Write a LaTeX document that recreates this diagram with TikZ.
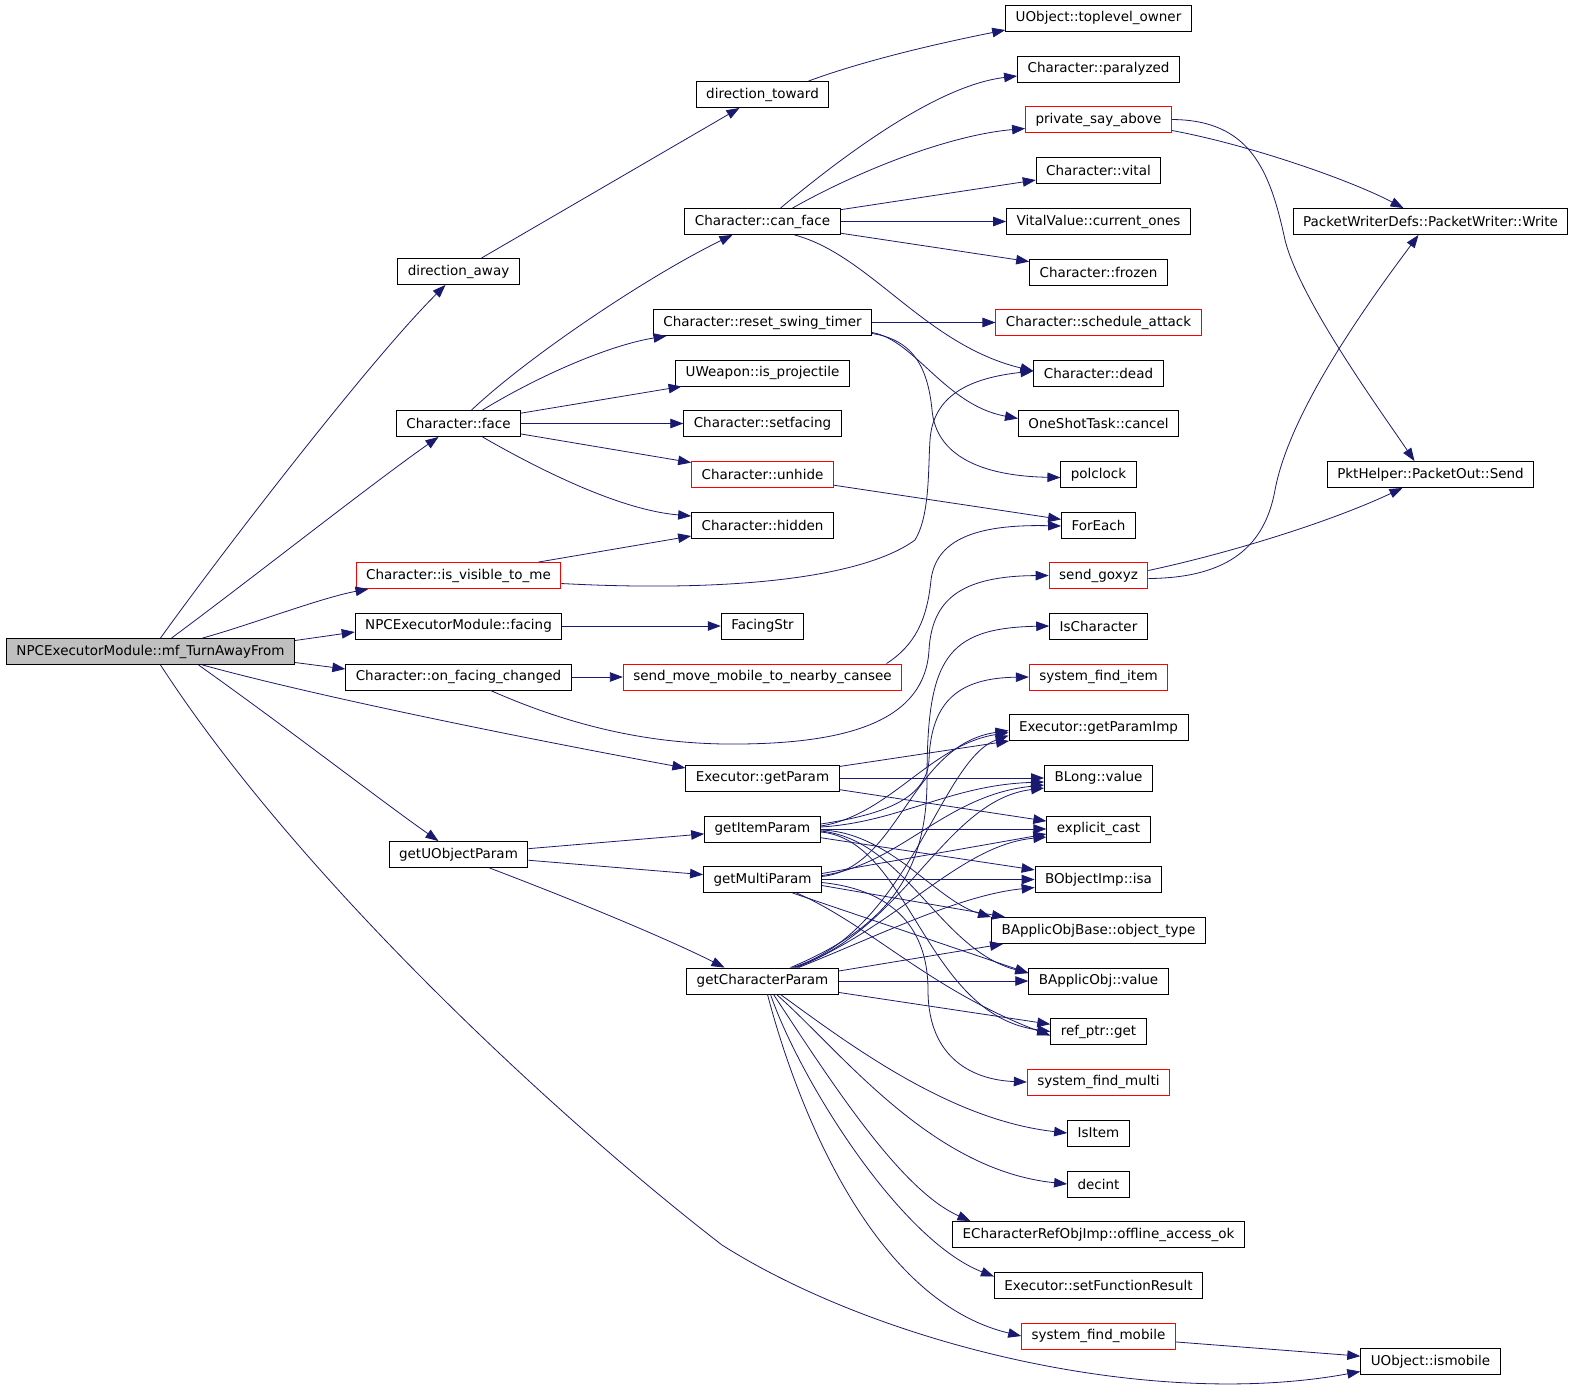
\documentclass[tikz,border=0pt]{standalone}
\usepackage{fontspec}
\setmainfont{DejaVu Sans}
\usetikzlibrary{arrows.meta}
\definecolor{callblue}{HTML}{191970}
\definecolor{rootgray}{HTML}{BFBFBF}
\tikzset{fn/.style = {draw, line width = 0.9pt, minimum height = 26pt, inner xsep = 10pt, inner ysep = 0pt,
    font = \fontsize{13.5}{15}\selectfont}}
\tikzset{fnred/.style = {fn, draw = red}}
\tikzset{fnroot/.style = {fn, fill = rootgray}}
\tikzset{call/.style = {draw = callblue, line width = 0.8pt, -{Triangle[length = 13pt, width = 9.5pt]}}}

\begin{document}
\begin{tikzpicture}[x = 1pt, y = -1pt]
    \useasboundingbox (0, 0) rectangle (1573, 1398);

    \node [fnroot] (turn) at (150.5, 651.5) {NPCExecutorModule::mf\_TurnAwayFrom};

    \node [fn] (daway) at (458.5, 271.5) {direction\_away};
    \node [fn] (face) at (458.5, 423.5) {Character::face};
    \node [fnred] (isvisible) at (458.5, 575.5) {Character::is\_visible\_to\_me};
    \node [fn] (npcfacing) at (458.5, 626) {NPCExecutorModule::facing};
    \node [fn] (onfacing) at (458.5, 677) {Character::on\_facing\_changed};
    \node [fn] (getuobj) at (458.5, 854.5) {getUObjectParam};

    \node [fn] (dtoward) at (762.5, 94.5) {direction\_toward};
    \node [fn] (canface) at (762.5, 221.5) {Character::can\_face};
    \node [fn] (resetswing) at (762.5, 322.5) {Character::reset\_swing\_timer};
    \node [fn] (isproj) at (762.5, 373) {UWeapon::is\_projectile};
    \node [fn] (setfacing) at (762.5, 423.5) {Character::setfacing};
    \node [fnred] (unhide) at (762.5, 474.5) {Character::unhide};
    \node [fn] (hidden) at (762.5, 525) {Character::hidden};
    \node [fn] (facingstr) at (762.5, 626) {FacingStr};
    \node [fnred] (sendmove) at (762.5, 677) {send\_move\_mobile\_to\_nearby\_cansee};
    \node [fn] (getparam) at (762.5, 778) {Executor::getParam};
    \node [fn] (getitem) at (762.5, 829) {getItemParam};
    \node [fn] (getmulti) at (762.5, 879.5) {getMultiParam};
    \node [fn] (getchar) at (762.5, 981) {getCharacterParam};

    \node [fn] (toplevel) at (1098.5, 18) {UObject::toplevel\_owner};
    \node [fn] (paralyzed) at (1098.5, 69) {Character::paralyzed};
    \node [fnred] (saybove) at (1098.5, 119.5) {private\_say\_above};
    \node [fn] (vital) at (1098.5, 170.5) {Character::vital};
    \node [fn] (curones) at (1098.5, 221.5) {VitalValue::current\_ones};
    \node [fn] (frozen) at (1098.5, 272) {Character::frozen};
    \node [fnred] (schedatk) at (1098.5, 322.5) {Character::schedule\_attack};
    \node [fn] (dead) at (1098.5, 373) {Character::dead};
    \node [fn] (cancel) at (1098.5, 423.5) {OneShotTask::cancel};
    \node [fn] (polclock) at (1098.5, 474.5) {polclock};
    \node [fn] (foreach) at (1098.5, 525) {ForEach};
    \node [fnred] (goxyz) at (1098.5, 575.5) {send\_goxyz};
    \node [fn] (ischar) at (1098.5, 626) {IsCharacter};
    \node [fnred] (finditem) at (1098.5, 677) {system\_find\_item};
    \node [fn] (getparamimp) at (1098.5, 727.5) {Executor::getParamImp};
    \node [fn] (blong) at (1098.5, 778) {BLong::value};
    \node [fn] (expcast) at (1098.5, 829) {explicit\_cast};
    \node [fn] (isa) at (1098.5, 879.5) {BObjectImp::isa};
    \node [fn] (objtype) at (1098.5, 930.5) {BApplicObjBase::object\_type};
    \node [fn] (applicval) at (1098.5, 981) {BApplicObj::value};
    \node [fn] (refget) at (1098.5, 1031.5) {ref\_ptr::get};
    \node [fnred] (findmulti) at (1098.5, 1082) {system\_find\_multi};
    \node [fn] (isitem) at (1098.5, 1133) {IsItem};
    \node [fn] (decint) at (1098.5, 1184) {decint};
    \node [fn] (offline) at (1098.5, 1234.5) {ECharacterRefObjImp::offline\_access\_ok};
    \node [fn] (setfunc) at (1098.5, 1285.5) {Executor::setFunctionResult};
    \node [fnred] (findmobile) at (1098.5, 1336) {system\_find\_mobile};

    \node [fn] (pwrite) at (1430.5, 221.5) {PacketWriterDefs::PacketWriter::Write};
    \node [fn] (pktsend) at (1430.5, 474.5) {PktHelper::PacketOut::Send};
    \node [fn] (ismobile) at (1430.5, 1361.5) {UObject::ismobile};

    % calls of the root
    \draw [call] ([xshift=10pt]turn.north) .. controls (220, 555) and (370, 360) .. ([xshift=-13pt]daway.south);
    \draw [call] ([xshift=21pt]turn.north) .. controls (250, 580) and (370, 485) .. ([xshift=-20pt]face.south);
    \draw [call] ([xshift=52pt]turn.north) .. controls (250, 625) and (320, 598) .. ([xshift=-90pt]isvisible.south);
    \draw [call] ([yshift=11pt]turn.east) -- ([yshift=-6pt]npcfacing.west);
    \draw [call] ([yshift=-11pt]turn.east) -- ([yshift=8pt]onfacing.west);
    \draw [call] ([xshift=52pt]turn.south) .. controls (330, 700) and (560, 745) .. ([yshift=10pt]getparam.west);
    \draw [call] ([xshift=48pt]turn.south) .. controls (290, 730) and (380, 800) .. ([xshift=-20pt]getuobj.north);
    \draw [call] ([xshift=10pt]turn.south) .. controls (300, 880) and (560, 1120) .. (722, 1245)
        .. controls (880, 1345) and (1150, 1410) .. ([yshift=-10pt]ismobile.west);

    % first column
    \draw [call] ([xshift=23pt]daway.north) -- ([xshift=-23pt]dtoward.south);
    \draw [call] ([xshift=13pt]face.north) .. controls (530, 355) and (650, 275) .. ([xshift=-30pt]canface.south);
    \draw [call] ([xshift=24pt]face.north) .. controls (540, 375) and (610, 345) .. ([xshift=-96pt]resetswing.south);
    \draw [call] (face) -- (isproj);
    \draw [call] (face) -- (setfacing);
    \draw [call] (face) -- (unhide);
    \draw [call] ([xshift=24pt]face.south) .. controls (540, 470) and (620, 510) .. ([yshift=9pt]hidden.west);
    \draw [call] ([xshift=80pt]isvisible.north) -- ([yshift=-11pt]hidden.west);
    \draw [call] ([yshift=-8pt]isvisible.east) .. controls (720, 592) and (860, 580) .. (915, 540)
        .. controls (930, 515) and (928, 470) .. (930, 440)
        .. controls (933, 395) and (970, 378) .. ([yshift=2pt]dead.west);
    \draw [call] (npcfacing) -- (facingstr);
    \draw [call] (onfacing) -- (sendmove);
    \draw [call] ([xshift=32pt]onfacing.south) .. controls (580, 730) and (660, 745) .. (740, 744)
        .. controls (850, 743) and (925, 720) .. (929, 650)
        .. controls (932, 600) and (960, 576) .. (goxyz.west);
    \draw [call] ([xshift=31pt]getuobj.south) .. controls (600, 910) and (680, 945) .. ([xshift=-38pt]getchar.north);
    \draw [call] (getuobj) -- (getitem);
    \draw [call] (getuobj) -- (getmulti);

    % second column
    \draw [call] ([xshift=46pt]dtoward.north) .. controls (860, 62) and (930, 45) .. ([yshift=-12pt]toplevel.west);
    \draw [call] ([xshift=18pt]canface.north) .. controls (850, 150) and (940, 85) .. ([yshift=-7pt]paralyzed.west);
    \draw [call] ([xshift=30pt]canface.north) .. controls (860, 170) and (950, 135) .. ([yshift=-9pt]saybove.west);
    \draw [call] (canface) -- (vital);
    \draw [call] (canface) -- (curones);
    \draw [call] (canface) -- (frozen);
    \draw [call] ([xshift=32pt]canface.south) .. controls (870, 255) and (925, 345) .. ([yshift=2pt]dead.west);
    \draw [call] (resetswing) -- (schedatk);
    \draw [call] ([yshift=-10pt]resetswing.east) .. controls (915, 340) and (945, 405) .. ([yshift=5pt]cancel.west);
    \draw [call] ([yshift=-11pt]resetswing.east) .. controls (915, 340) and (928, 370) .. (932, 410)
        .. controls (936, 455) and (980, 476) .. ([yshift=-3pt]polclock.west);
    \draw [call] (unhide) -- (foreach);
    \draw [call] ([xshift=124pt]sendmove.north) .. controls (915, 645) and (927, 620) .. (931, 580)
        .. controls (936, 540) and (975, 524) .. ([yshift=-1pt]foreach.west);

    \draw [call] (getparam) -- (getparamimp);
    \draw [call] (getparam) -- (blong);
    \draw [call] (getparam) -- (expcast);

    \draw [call] ([yshift=3pt]getitem.east) .. controls (890, 815) and (930, 745) .. ([yshift=-5pt]getparamimp.west);
    \draw [call] ([yshift=2pt]getitem.east) .. controls (900, 822) and (950, 785) .. ([yshift=-4pt]blong.west);
    \draw [call] (getitem) -- (expcast);
    \draw [call] (getitem) -- (isa);
    \draw [call] ([yshift=-1pt]getitem.east) .. controls (890, 832) and (935, 900) .. (objtype.north west);
    \draw [call] ([yshift=-2pt]getitem.east) .. controls (905, 840) and (940, 950) .. ([yshift=8pt]applicval.west);
    \draw [call] ([yshift=-3pt]getitem.east) .. controls (910, 840) and (925, 1015) .. (refget.west);
    \draw [call] ([yshift=5pt]getitem.east) .. controls (880, 815) and (927, 800) .. (929, 760)
        .. controls (931, 700) and (960, 678) .. (finditem.west);

    \draw [call] ([yshift=3pt]getmulti.east) .. controls (900, 868) and (910, 745) .. ([yshift=-3pt]getparamimp.west);
    \draw [call] ([yshift=4pt]getmulti.east) .. controls (900, 865) and (945, 795) .. ([yshift=-7pt]blong.west);
    \draw [call] ([yshift=6pt]getmulti.east) -- ([yshift=-5pt]expcast.west);
    \draw [call] (getmulti) -- (isa);
    \draw [call] ([yshift=-6pt]getmulti.east) -- ([xshift=14pt]objtype.north west);
    \draw [call] ([xshift=30pt]getmulti.south) -- ([yshift=8pt]applicval.west);
    \draw [call] ([xshift=34pt]getmulti.south) .. controls (870, 925) and (930, 990) .. ([yshift=-4pt]refget.west);
    \draw [call] ([yshift=-3pt]getmulti.east) .. controls (895, 890) and (928, 930) .. (928, 990)
        .. controls (928, 1060) and (975, 1080) .. (findmulti.west);

    \draw [call] ([xshift=30pt]getchar.north) .. controls (910, 930) and (940, 760) .. ([yshift=-8pt]getparamimp.west);
    \draw [call] ([xshift=32pt]getchar.north) .. controls (905, 930) and (945, 800) .. ([yshift=-10pt]blong.west);
    \draw [call] ([xshift=34pt]getchar.north) .. controls (900, 925) and (960, 845) .. ([yshift=-8pt]expcast.west);
    \draw [call] ([xshift=36pt]getchar.north) .. controls (880, 935) and (960, 895) .. ([yshift=-8pt]isa.west);
    \draw [call] ([xshift=28pt]getchar.north) .. controls (880, 930) and (927, 880) .. (927, 780)
        .. controls (927, 660) and (945, 628) .. (ischar.west);
    \draw [call] ([yshift=10pt]getchar.east) -- ([xshift=12pt]objtype.south west);
    \draw [call] (getchar) -- (applicval);
    \draw [call] (getchar) -- (refget);
    \draw [call] ([xshift=18pt]getchar.south) .. controls (850, 1045) and (950, 1120) .. (isitem.west);
    \draw [call] ([xshift=14pt]getchar.south) .. controls (840, 1050) and (930, 1170) .. (decint.west);
    \draw [call] ([xshift=11pt]getchar.south) .. controls (830, 1080) and (900, 1190) .. ([xshift=-128pt]offline.north);
    \draw [call] ([xshift=8pt]getchar.south) .. controls (800, 1080) and (900, 1240) .. ([yshift=9pt]setfunc.west);
    \draw [call] ([xshift=5pt]getchar.south) .. controls (795, 1100) and (870, 1300) .. (findmobile.west);

    % third column
    \draw [call] ([yshift=-11pt]saybove.east) .. controls (1250, 145) and (1350, 180) .. ([xshift=-27pt]pwrite.north);
    \draw [call] (saybove.east) .. controls (1250, 120) and (1270, 170) .. (1285, 240)
        .. controls (1300, 300) and (1380, 410) .. ([xshift=-16pt]pktsend.north);
    \draw [call] ([yshift=5pt]goxyz.east) .. controls (1230, 553) and (1330, 522) .. ([xshift=-28pt]pktsend.south);
    \draw [call] ([yshift=-3pt]goxyz.east) .. controls (1230, 578) and (1265, 545) .. (1275, 490)
        .. controls (1290, 410) and (1370, 300) .. ([xshift=-12pt]pwrite.south);
    \draw [call] (findmobile) -- (ismobile);
\end{tikzpicture}
\end{document}
